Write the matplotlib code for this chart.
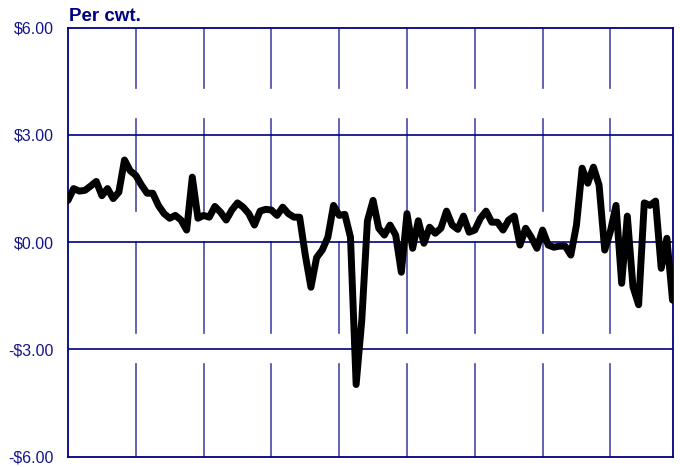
import numpy as np
import matplotlib
matplotlib.use("Agg")
import matplotlib.pyplot as plt

plt.rcParams["font.family"] = ["Liberation Sans", "DejaVu Sans"]

NAVY = "#14148a"

# monthly spread, $ per cwt (108 months, gridline every 12)
values = [
    1.17, 1.50, 1.43, 1.45, 1.57, 1.70, 1.30, 1.50, 1.22, 1.40,
    2.30, 2.00, 1.87, 1.60, 1.37, 1.37, 1.03, 0.80, 0.67, 0.75,
    0.62, 0.34, 1.82, 0.67, 0.75, 0.70, 1.00, 0.84, 0.62, 0.90,
    1.10, 0.98, 0.80, 0.48, 0.87, 0.92, 0.90, 0.75, 0.98, 0.80,
    0.70, 0.70, -0.36, -1.26, -0.43, -0.22, 0.14, 1.03, 0.75, 0.78,
    0.14, -3.98, -2.18, 0.60, 1.17, 0.39, 0.20, 0.48, 0.20, -0.84,
    0.80, -0.17, 0.60, -0.03, 0.42, 0.25, 0.39, 0.87, 0.48, 0.36,
    0.73, 0.28, 0.34, 0.67, 0.87, 0.56, 0.56, 0.34, 0.62, 0.73,
    -0.08, 0.39, 0.14, -0.17, 0.34, -0.08, -0.14, -0.11, -0.11, -0.36,
    0.48, 2.07, 1.65, 2.10, 1.60, -0.22, 0.30, 1.03, -1.15, 0.73,
    -1.25, -1.75, 1.10, 1.03, 1.15, -0.73, 0.11, -1.62,
]
yticks = [6, 3, 0, -3, -6]
ylabels = ["$6.00", "$3.00", "$0.00", "-$3.00", "-$6.00"]
hlines = [3, 0, -3]
vgrid = [12, 24, 36, 48, 60, 72, 84, 96]
# pieces of each vertical gridline that are drawn (gaps in between)
vsegs = [(4.31, 6.0), (0.87, 3.45), (-2.54, 0.0), (-6.0, -3.41)]

fig = plt.figure(figsize=(6.8, 4.67), dpi=100)
ax = fig.add_axes([0.100, 0.022, 0.889, 0.9187])

x = np.arange(len(values))
ax.set_xlim(0, len(values) - 1)
ax.set_ylim(-6, 6)

for xv in vgrid:
    for lo, hi in vsegs:
        ax.plot([xv, xv], [lo, hi], color="#4848a8", lw=1.2, zorder=1)
for yv in hlines:
    ax.axhline(yv, color="#000080", lw=1.2, zorder=1)

ax.plot(x, values, color="black", lw=5.0, solid_joinstyle="round",
        solid_capstyle="round", zorder=3)

ax.set_xticks([])
ax.set_yticks(yticks)
ax.set_yticklabels(ylabels)
ax.tick_params(axis="y", length=0, pad=10, labelsize=11.5, labelcolor=NAVY)
for s in ax.spines.values():
    s.set_color("#000080")
    s.set_linewidth(1.3)

fig.text(0.101, 0.956, "Per cwt.", fontsize=13.5, fontweight="bold",
         color="#000080", va="baseline", ha="left")

fig.savefig("out.png", dpi=100)
